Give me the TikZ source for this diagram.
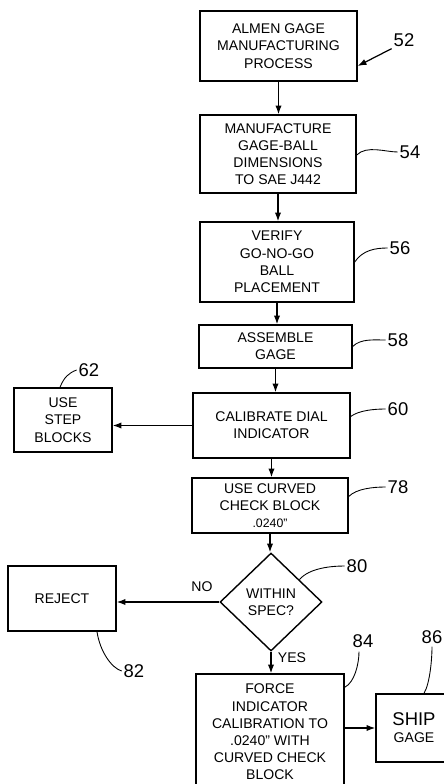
\documentclass[tikz,border=0pt]{standalone}
\usepackage{fontspec}
\setmainfont{Liberation Sans}
\usetikzlibrary{positioning,shapes.geometric,arrows.meta,calc}

\begin{document}
\begin{tikzpicture}[x=0.02cm,y=-0.02cm,
  box/.style={draw,line width=.8pt,align=center,inner sep=1pt,font=\fontsize{8}{9.8}\selectfont},
  arr/.style={line width=.7pt,-{Latex[length=5pt,width=3.6pt]}},
  num/.style={font=\fontsize{10.5}{12}\selectfont,inner sep=1pt},
  lead/.style={line width=.5pt}]
\useasboundingbox (0,0) rectangle (443,784);
  % main column
  \node[box,minimum width=3.14cm,minimum height=1.4cm] (b52) at (278.5,46) {ALMEN GAGE\\MANUFACTURING\\PROCESS};
  \node[box,minimum width=3.12cm,minimum height=1.56cm] (b54) at (278,154) {MANUFACTURE\\GAGE-BALL\\DIMENSIONS\\TO SAE J442};
  \node[box,minimum width=3.08cm,minimum height=1.6cm] (b56) at (277,262) {VERIFY\\GO-NO-GO\\BALL\\PLACEMENT};
  \node[box,minimum width=3.06cm,minimum height=.86cm] (b58) at (275.5,346.5) {ASSEMBLE\\GAGE};
  \node[box,minimum width=3.14cm,minimum height=1.3cm] (b60) at (271.5,425.5) {CALIBRATE DIAL\\INDICATOR};
  \node[box,minimum width=3.12cm,minimum height=1.1cm] (b78) at (270,505.5) {USE CURVED\\CHECK BLOCK\\{\fontsize{7}{9.8}\selectfont .0240"}};
  \node[box,diamond,inner sep=0pt,minimum width=2.04cm,minimum height=1.96cm] (d80) at (271,602) {WITHIN\\SPEC?};
  \node[box,minimum width=2.96cm,minimum height=2.32cm] (b84) at (270,732) {FORCE\\INDICATOR\\CALIBRATION TO\\.0240" WITH\\CURVED CHECK\\BLOCK};
  % side boxes
  \node[box,minimum width=1.96cm,minimum height=1.28cm] (b62) at (63,420) {USE\\STEP\\BLOCKS};
  \node[box,minimum width=2.16cm,minimum height=1.3cm] (b82) at (62,598.5) {REJECT};
  \node[box,minimum width=1.52cm,minimum height=1.36cm] (b86) at (414,728) {{\fontsize{10.5}{11}\selectfont SHIP}\\GAGE};
  % flow
  \draw[arr] (b52.south) -- (b52.south |- b54.north);
  \draw[arr] (b54.south) -- (b54.south |- b56.north);
  \draw[arr] (b56.south) -- (b56.south |- b58.north);
  \draw[arr] (b58.south) -- (b58.south |- b60.north);
  \draw[arr] (b60.south) -- (b60.south |- b78.north);
  \draw[arr] (b78.south) -- (b78.south |- d80.north);
  \draw[arr] (d80.south) -- (d80.south |- b84.north);
  \draw[arr] (b60.west) -- (b60.west -| b62.east);
  \draw[arr] (d80.west) -- (d80.west -| b82.east);
  \draw[arr] (b84.east |- b86.west) -- (b86.west);
  \node[box,draw=none] (no) at (202,587) {NO};
  \node[box,draw=none] (yes) at (292,658) {YES};
  % reference numbers
  \node[num] (n52) at (404,40) {52};
  \node[num] (n54) at (410,152) {54};
  \node[num] (n56) at (400,248) {56};
  \node[num] (n58) at (398,340) {58};
  \node[num] (n60) at (398,409) {60};
  \node[num] (n78) at (398,487) {78};
  \node[num] (n80) at (357,566) {80};
  \node[num] (n62) at (89,370) {62};
  \node[num] (n82) at (134,671) {82};
  \node[num] (n84) at (363,641) {84};
  \node[num] (n86) at (432,637) {86};
  \draw[arr] (n52.south west) -- ($(b52.east)+(0,20)$);
  \draw[lead] ($(b54.east)+(0,1)$) .. controls +(10,-10) and +(-12,0) .. (n54.west);
  \draw[lead] (b56.east) .. controls +(8,-12) and +(-12,0) .. (n56.west);
  \draw[lead] (b58.east) .. controls +(8,-8) and +(-12,0) .. (n58.west);
  \draw[lead] ($(b60.east)+(0,-9)$) .. controls +(8,-6) and +(-12,0) .. (n60.west);
  \draw[lead] ($(b78.east)+(0,-9)$) .. controls +(8,-8) and +(-12,0) .. (n78.west);
  \draw[lead] ($(d80.north)!.55!(d80.east)$) .. controls +(10,-12) and +(-12,0) .. (n80.west);
  \draw[lead] ($(b62.north)+(-3,0)$) .. controls +(4,-10) and +(-8,3) .. (n62.west);
  \draw[lead] ($(b82.south)+(35,0)$) .. controls +(3,20) and +(-10,-3) .. (n82.west);
  \draw[lead] ($(b84.north east)+(0,14)$) .. controls +(10,-5) and +(0,12) .. ($(n84.south)+(-4,2)$);
  \draw[lead] ($(b86.north)+(10,0)$) .. controls +(6,-10) and +(0,12) .. ($(n86.south)+(0,1)$);
\end{tikzpicture}
\end{document}
